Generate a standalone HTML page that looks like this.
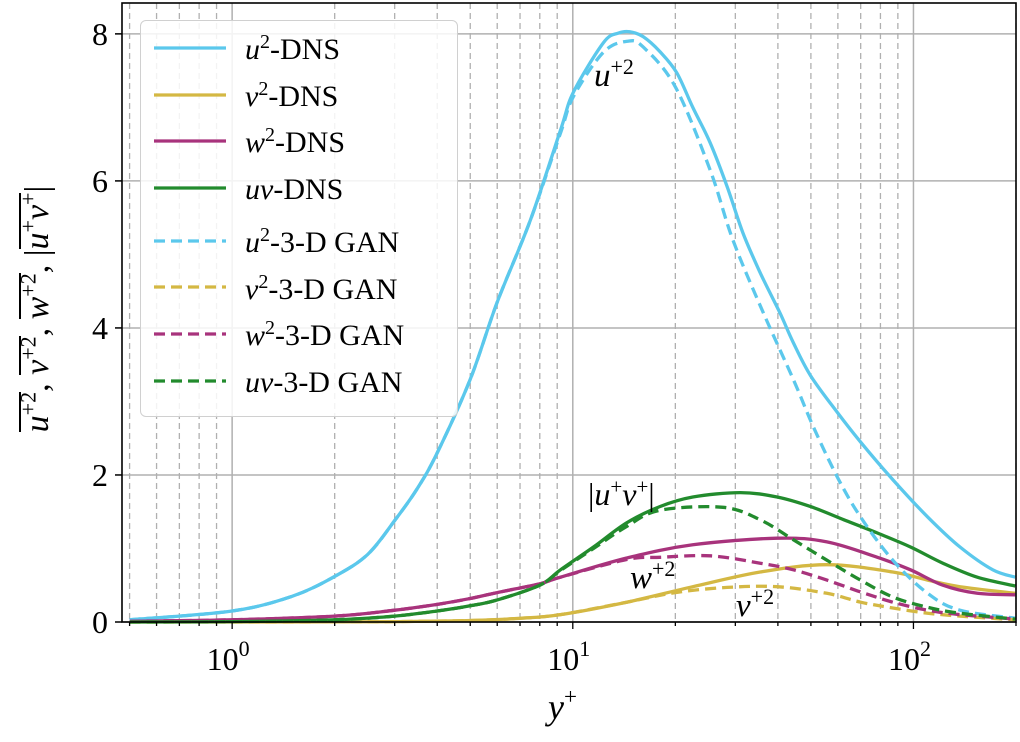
<!DOCTYPE html>
<html><head><meta charset="utf-8"><style>
html,body{margin:0;padding:0;background:#fff;}
svg text{font-family:"Liberation Serif",serif;}
.ov{display:inline-block;border-top:2px solid #000;line-height:32px;padding-top:1px;}
</style></head><body>
<svg id="chart" width="1020" height="737" xmlns="http://www.w3.org/2000/svg">
<g id="grid"></g>
<g id="series"></g>
<g id="axes"></g>
</svg>
<script>
const NS="http://www.w3.org/2000/svg";
const xMin=0.475,xMax=200,yMin=0,yMax=8.42;
const L=122,R=1016,T=3,B=622;
const yTicks=[0,2,4,6,8];
const xMajor=[1,10,100];
const xMajorLabels=["0","1","2"];
const uuDnsX=[0.5,1,1.5,2,2.5,3,3.5,4,5,6,7.5,9.2,10.05,12.3,13.6,14.7,16.1,18,20.2,22.5,25.3,28.4,31.6,35.5,40.6,44.4,49.9,59.8,69.9,87.2,110,137,171,199];
const uuDnsY=[0.03,0.15,0.35,0.62,0.92,1.38,1.82,2.3,3.3,4.35,5.46,6.69,7.21,7.88,8.01,8.03,7.96,7.76,7.47,7.0,6.52,5.92,5.29,4.75,4.2,3.8,3.35,2.85,2.45,1.93,1.43,1.02,0.71,0.61];
const uuGanX=[0.5,1,1.5,2,2.5,3,3.5,4,5,6,7.5,9.2,10.05,12.3,14.5,16.1,20,25.3,29.5,36.3,44.4,50.9,59.8,69.9,87,110,137,200];
const uuGanY=[0.03,0.15,0.35,0.62,0.92,1.38,1.82,2.3,3.3,4.35,5.46,6.65,7.15,7.75,7.9,7.82,7.28,6.15,5.2,4.2,3.3,2.65,1.97,1.43,0.84,0.39,0.16,0.05];
const uvDnsX=[0.5,1,2,3,4,5,6,8,9.2,11.5,14.4,18,22.5,31,39.8,49.9,62.5,78.4,98,122,154,199];
const uvDnsY=[0,0.005,0.03,0.08,0.15,0.22,0.3,0.5,0.71,1.02,1.35,1.57,1.70,1.76,1.70,1.57,1.39,1.21,1.02,0.8,0.61,0.49];
const uvGanX=[0.5,1,2,3,4,5,6,8,9.2,11.5,14.4,18,27.6,35.5,44.4,55.7,69.9,87,110,137,199];
const uvGanY=[0,0.005,0.03,0.08,0.15,0.22,0.3,0.5,0.7,1.0,1.3,1.52,1.56,1.39,1.12,0.84,0.57,0.34,0.2,0.12,0.04];
const wwDnsX=[0.5,1,2,3,4,5,6,8,9.2,14.4,22.5,39.8,55.7,78.4,98,122,154,199];
const wwDnsY=[0.01,0.03,0.08,0.16,0.24,0.32,0.4,0.52,0.61,0.87,1.05,1.14,1.09,0.88,0.71,0.5,0.39,0.37];
const wwGanX=[0.5,1,2,3,4,5,6,8,9.2,14.4,18,25.3,35.5,44.4,55.7,69.9,87,110,137,199];
const wwGanY=[0.01,0.03,0.08,0.16,0.24,0.32,0.4,0.52,0.61,0.85,0.88,0.9,0.8,0.71,0.57,0.41,0.27,0.16,0.1,0.04];
const vvDnsX=[0.5,1,2,3,5,7,9.2,14.4,22.5,35.5,55.7,87,110,137,199];
const vvDnsY=[0,0,0.002,0.006,0.02,0.05,0.1,0.27,0.48,0.68,0.78,0.68,0.57,0.48,0.39];
const vvGanX=[0.5,1,2,3,5,7,9.2,14.4,20,28.4,39.8,55.7,70,87,110,137,199];
const vvGanY=[0,0,0.002,0.006,0.02,0.05,0.1,0.27,0.4,0.47,0.48,0.39,0.27,0.19,0.12,0.08,0.03];
const C={u:"#5bc8ec",v:"#d4b843",w:"#a8337c",uv:"#228b2d"};
function px(x){return L+(Math.log10(x)-Math.log10(xMin))/(Math.log10(xMax)-Math.log10(xMin))*(R-L);}
function py(v){return B-(v-yMin)/(yMax-yMin)*(B-T);}
function mk(tag,attrs,parent){const e=document.createElementNS(NS,tag);for(const k in attrs)e.setAttribute(k,attrs[k]);parent.appendChild(e);return e;}
const grid=document.getElementById('grid'),ser=document.getElementById('series'),ax=document.getElementById('axes');
for(let d=-1;d<=2;d++){for(let m=2;m<=9;m++){const x=m*Math.pow(10,d);if(x<xMin||x>xMax)continue;
const g=mk('line',{x1:px(x),x2:px(x),y1:T,y2:B,stroke:"#b0b0b0","stroke-width":1.3,"stroke-dasharray":"6,4"},grid);

}}
xMajor.forEach(x=>{const g=mk('line',{x1:px(x),x2:px(x),y1:T,y2:B,stroke:"#b0b0b0","stroke-width":1.5},grid);

});
yTicks.forEach(v=>{const g=mk('line',{x1:L,x2:R,y1:py(v),y2:py(v),stroke:"#b0b0b0","stroke-width":1.5},grid);

});
function smoothPath(P){let d="M"+P[0][0].toFixed(1)+","+P[0][1].toFixed(1);
for(let i=0;i<P.length-1;i++){const p0=P[Math.max(0,i-1)],p1=P[i],p2=P[i+1],p3=P[Math.min(P.length-1,i+2)];
const c1=[p1[0]+(p2[0]-p0[0])/6,p1[1]+(p2[1]-p0[1])/6],c2=[p2[0]-(p3[0]-p1[0])/6,p2[1]-(p3[1]-p1[1])/6];
d+=" C"+c1[0].toFixed(1)+","+c1[1].toFixed(1)+" "+c2[0].toFixed(1)+","+c2[1].toFixed(1)+" "+p2[0].toFixed(1)+","+p2[1].toFixed(1);}
return d;}
function line(xs,ys,col,dash,name){const P=xs.map((x,i)=>[px(x),py(ys[i])]);
const p=mk('path',{d:smoothPath(P),fill:"none",stroke:col,"stroke-width":3.3,"stroke-linejoin":"round"},ser);
if(dash)p.setAttribute('stroke-dasharray',"11,6");

}
line(uuDnsX,uuDnsY,C.u,false,'u2-dns-line');
line(vvDnsX,vvDnsY,C.v,false,'v2-dns-line');
line(wwDnsX,wwDnsY,C.w,false,'w2-dns-line');
line(uvDnsX,uvDnsY,C.uv,false,'uv-dns-line');
line(uuGanX,uuGanY,C.u,true,'u2-gan-line');
line(vvGanX,vvGanY,C.v,true,'v2-gan-line');
line(wwGanX,wwGanY,C.w,true,'w2-gan-line');
line(uvGanX,uvGanY,C.uv,true,'uv-gan-line');
const fr=mk('rect',{x:L,y:T,width:R-L,height:B-T,fill:"none",stroke:"#000","stroke-width":1.6},ax);


yTicks.forEach(v=>{mk('line',{x1:L-7,x2:L,y1:py(v),y2:py(v),stroke:"#000","stroke-width":1.5},ax);
const t=mk('text',{x:L-14,y:py(v)+11,"font-size":32,"text-anchor":"end"},ax);t.textContent=v;

});
for(let d=-1;d<=2;d++){for(let m=1;m<=9;m++){const x=m*Math.pow(10,d);if(x<xMin||x>xMax)continue;
mk('line',{x1:px(x),x2:px(x),y1:B,y2:B+(m==1?7:4),stroke:"#000","stroke-width":1.3},ax);}}
xMajor.forEach((x,i)=>{const t=mk('text',{x:px(x)-4,y:B+48,"font-size":32,"text-anchor":"middle"},ax);
t.innerHTML='10<tspan dy="-14" font-size="22">'+xMajorLabels[i]+'</tspan>';

});
</script>
<div style="position:absolute;left:548px;top:686px;font:italic 36px 'Liberation Serif',serif;">y<sup style="font-size:23px;font-style:normal;vertical-align:15px;line-height:0">+</sup></div>
<div style="position:absolute;left:-197px;top:290px;width:470px;text-align:center;transform:rotate(-90deg);font:34px 'Liberation Serif',serif;white-space:nowrap;">
<span class="ov"><i>u</i><sup style="font-size:22px;line-height:0">+2</sup></span>, <span class="ov"><i>v</i><sup style="font-size:22px;line-height:0">+2</sup></span>, <span class="ov"><i>w</i><sup style="font-size:22px;line-height:0">+2</sup></span>, |<span class="ov"><i>u</i><sup style="font-size:22px;line-height:0">+</sup><i>v</i><sup style="font-size:22px;line-height:0">+</sup></span>|</div>
<div style="position:absolute;left:594px;top:58px;font:italic 33px 'Liberation Serif',serif;">u<sup style="font-size:22px;font-style:normal;line-height:0">+2</sup></div>
<div style="position:absolute;left:588px;top:476px;font:32px 'Liberation Serif',serif;">|<i>u</i><sup style="font-size:21px;line-height:0">+</sup><i>v</i><sup style="font-size:21px;line-height:0">+</sup>|</div>
<div style="position:absolute;left:630px;top:560px;font:italic 33px 'Liberation Serif',serif;">w<sup style="font-size:22px;font-style:normal;line-height:0">+2</sup></div>
<div style="position:absolute;left:736px;top:588px;font:italic 33px 'Liberation Serif',serif;">v<sup style="font-size:22px;font-style:normal;line-height:0">+2</sup></div>
<div style="position:absolute;left:140px;top:20px;width:316px;height:395px;border:1.5px solid #d0d0d0;border-radius:6px;background:rgba(255,255,255,0.85);font:30px 'Liberation Serif',serif;">
<svg width="316" height="395" style="position:absolute;left:0;top:0">
<line x1="13" x2="85" y1="27" y2="27" stroke="#5bc8ec" stroke-width="3.3"/>
<line x1="13" x2="85" y1="74" y2="74" stroke="#d4b843" stroke-width="3.3"/>
<line x1="13" x2="85" y1="120" y2="120" stroke="#a8337c" stroke-width="3.3"/>
<line x1="13" x2="85" y1="167" y2="167" stroke="#228b2d" stroke-width="3.3"/>
<line x1="13" x2="85" y1="220" y2="220" stroke="#5bc8ec" stroke-width="3.3" stroke-dasharray="11,6"/>
<line x1="13" x2="85" y1="266" y2="266" stroke="#d4b843" stroke-width="3.3" stroke-dasharray="11,6"/>
<line x1="13" x2="85" y1="313" y2="313" stroke="#a8337c" stroke-width="3.3" stroke-dasharray="11,6"/>
<line x1="13" x2="85" y1="360" y2="360" stroke="#228b2d" stroke-width="3.3" stroke-dasharray="11,6"/>
</svg>
<div style="position:absolute;left:104px;top:6px;line-height:46.7px;">
<div><i>u</i><sup style="font-size:20px;line-height:0">2</sup>-DNS</div>
<div><i>v</i><sup style="font-size:20px;line-height:0">2</sup>-DNS</div>
<div><i>w</i><sup style="font-size:20px;line-height:0">2</sup>-DNS</div>
<div><i>uv</i>-DNS</div>
<div style="margin-top:6px"><i>u</i><sup style="font-size:20px;line-height:0">2</sup>-3-D GAN</div>
<div><i>v</i><sup style="font-size:20px;line-height:0">2</sup>-3-D GAN</div>
<div><i>w</i><sup style="font-size:20px;line-height:0">2</sup>-3-D GAN</div>
<div><i>uv</i>-3-D GAN</div>
</div>
</div>
</body></html>
